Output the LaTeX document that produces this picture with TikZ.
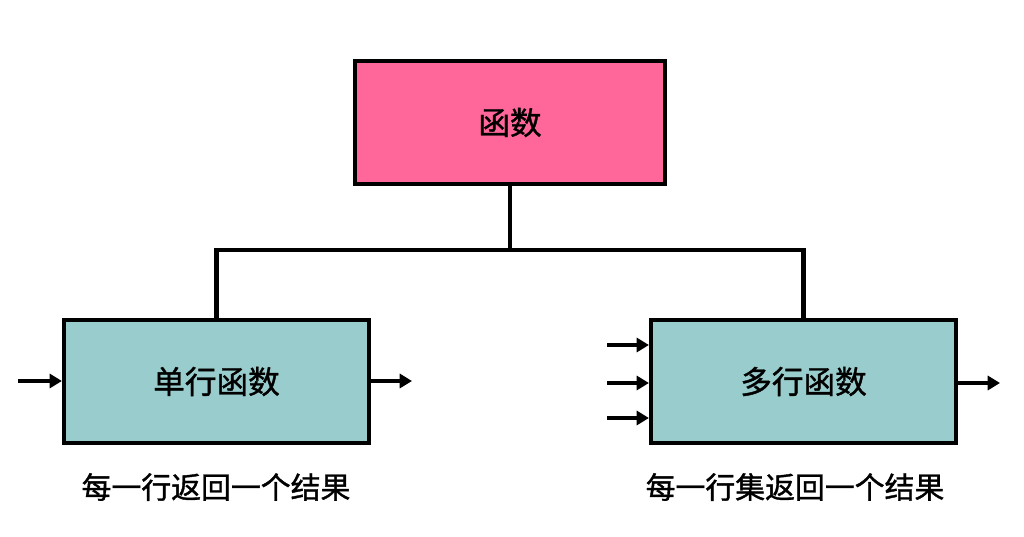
\documentclass[tikz,border=0pt]{standalone}
\usepackage{fontspec}
\newfontfamily\cjk[FakeBold=1.2]{Noto Sans CJK SC}
\usetikzlibrary{arrows.meta}
\definecolor{fpink}{HTML}{FF6699}
\definecolor{fteal}{HTML}{99CCCC}
\begin{document}
\begin{tikzpicture}[x=0.02cm, y=-0.02cm, >={Triangle[length=7pt,width=8pt]}, font=\cjk\fontsize{18}{20}\selectfont]
\useasboundingbox (0,0) rectangle (1024,537);
\tikzset{box/.style={draw, line width=2.4pt, rectangle, minimum width=6.1cm, minimum height=2.45cm}}
\node[box, fill=fpink, minimum width=6.2cm, minimum height=2.45cm] (f) at (510,122.5) {函数};
\node[box, fill=fteal] (r1) at (216.5,381.5) {单行函数};
\node[box, fill=fteal] (r2) at (803.5,381.5) {多行函数};
\node[font=\cjk\fontsize{17}{19}\selectfont] (l1) at (216,487) {每一行返回一个结果};
\node[font=\cjk\fontsize{17}{19}\selectfont] (l2) at (795,487) {每一行集返回一个结果};
\coordinate (j) at (510,250);
\coordinate (i1) at (18,381);
\coordinate (o1) at (412,381);
\coordinate (i2a) at (607,345);
\coordinate (i2b) at (607,383);
\coordinate (i2c) at (607,418);
\coordinate (o2) at (1000,383);
\draw[line width=2.4pt] (f.south) -- (j);
\draw[line width=2.4pt] (r1.north) |- (j) -| (r2.north);
\draw[->, line width=2.2pt] (i1) -- (i1 -| r1.west);
\draw[->, line width=2.2pt] (r1.east |- o1) -- (o1);
\draw[->, line width=2.2pt] (i2a) -- (i2a -| r2.west);
\draw[->, line width=2.2pt] (i2b) -- (i2b -| r2.west);
\draw[->, line width=2.2pt] (i2c) -- (i2c -| r2.west);
\draw[->, line width=2.2pt] (r2.east |- o2) -- (o2);
\end{tikzpicture}
\end{document}
